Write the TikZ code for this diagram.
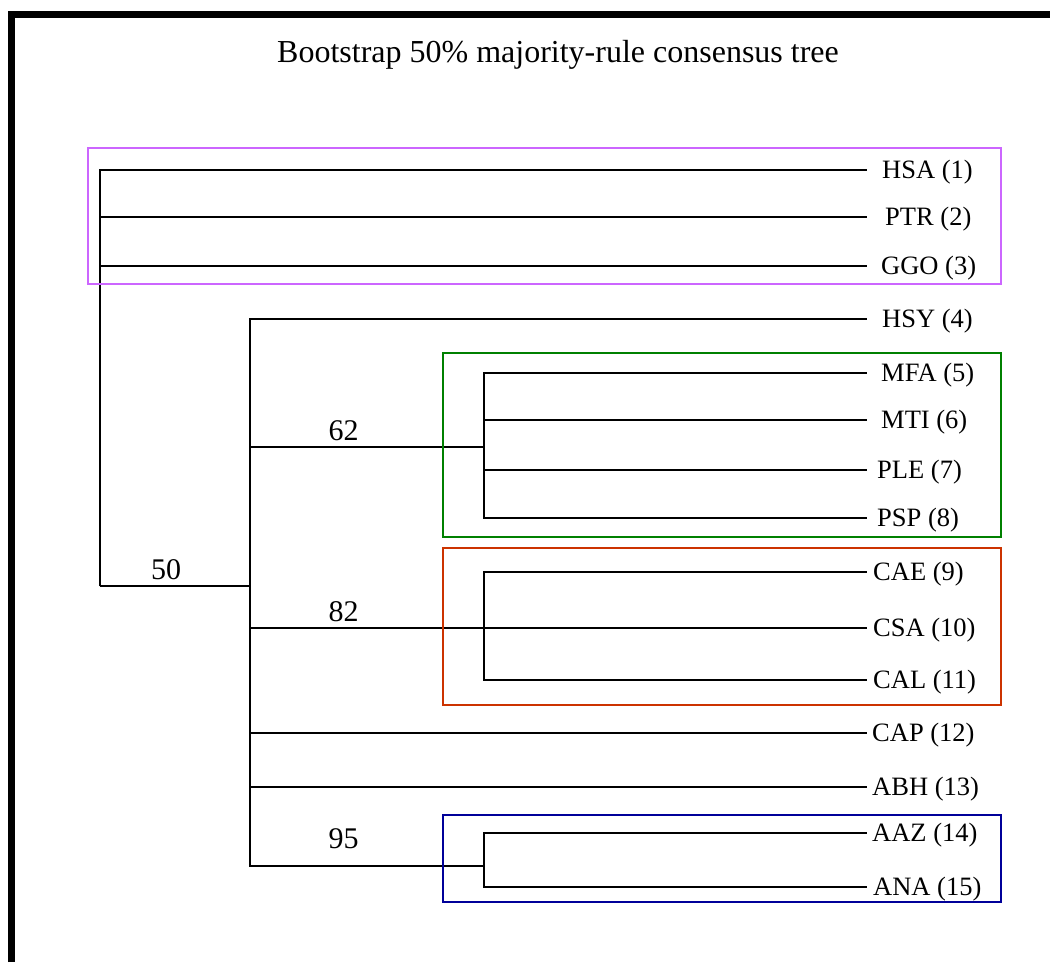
\documentclass[tikz,border=0pt]{standalone}
\usepackage{fontspec}
\setmainfont{Liberation Serif}
\usepackage{xcolor}

\definecolor{cladepurple}{RGB}{204,102,255}
\definecolor{cladegreen}{RGB}{0,128,0}
\definecolor{cladeorange}{RGB}{204,51,0}
\definecolor{cladeblue}{RGB}{0,0,153}

\begin{document}
\begin{tikzpicture}[x=1pt,y=-1pt,
    branch/.style={line width=2.8pt},
    taxon/.style={anchor=west,inner xsep=#1,inner ysep=0pt,text height=17.5pt,text depth=0pt,
      font=\fontsize{26.5}{30}\selectfont},
    taxon/.default=6pt,
    support/.style={above=5pt,inner sep=0pt,font=\fontsize{30}{34}\selectfont},
    cladebox/.style={line width=2.3pt}]
            \useasboundingbox (0,0) rectangle (1050,962);

            % Draw frame
            \draw[line width=7.6pt] (11.5,962) -- (11.5,14.5) -- (1050,14.5);

            % Title
            \node[anchor=base,font=\fontsize{32}{38}\selectfont] (title) at (558,62)
              {Bootstrap 50\% majority-rule consensus tree};

            % Taxa (tip of each branch at x=867)
            \node[taxon=15pt] (hsa) at (867,170) {HSA (1)};
            \node[taxon=18pt] (ptr) at (867,217) {PTR (2)};
            \node[taxon=14pt] (ggo) at (867,266) {GGO (3)};
            \node[taxon=15pt] (hsy) at (867,319) {HSY (4)};
            \node[taxon=14pt] (mfa) at (867,373) {MFA (5)};
            \node[taxon=14pt] (mti) at (867,420) {MTI (6)};
            \node[taxon=10pt] (ple) at (867,470) {PLE (7)};
            \node[taxon=10pt] (psp) at (867,518) {PSP (8)};
            \node[taxon] (cae) at (867,572) {CAE (9)};
            \node[taxon] (csa) at (867,628) {CSA (10)};
            \node[taxon] (cal) at (867,680) {CAL (11)};
            \node[taxon=5pt] (cap) at (867,733) {CAP (12)};
            \node[taxon=5pt] (abh) at (867,787) {ABH (13)};
            \node[taxon=5pt] (aaz) at (867,833) {AAZ (14)};
            \node[taxon] (ana) at (867,887) {ANA (15)};

            % Internal nodes
            \coordinate (root) at (100,586);
            \coordinate (n50) at (250,586);
            \coordinate (n62) at (484,447);
            \coordinate (n82) at (484,628);
            \coordinate (n95) at (484,866);

            % Draw branches
            \draw[branch] (root) |- (hsa.west);
            \draw[branch] (root) |- (ptr.west);
            \draw[branch] (root) |- (ggo.west);
            \draw[branch] (root) -- (n50) node[support,pos=0.44] {50};

            \draw[branch] (n50) |- (hsy.west);
            \draw[branch] (n50) |- (n62) node[support,pos=0.7] {62};
            \draw[branch] (n50) |- (n82) node[support,pos=0.7] {82};
            \draw[branch] (n50) |- (cap.west);
            \draw[branch] (n50) |- (abh.west);
            \draw[branch] (n50) |- (n95) node[support,pos=0.7,above=11pt] {95};

            \draw[branch] (n62) |- (mfa.west);
            \draw[branch] (n62) |- (mti.west);
            \draw[branch] (n62) |- (ple.west);
            \draw[branch] (n62) |- (psp.west);

            \draw[branch] (n82) |- (cae.west);
            \draw[branch] (n82) |- (csa.west);
            \draw[branch] (n82) |- (cal.west);

            \draw[branch] (n95) |- (aaz.west);
            \draw[branch] (n95) |- (ana.west);

            % Clade boxes
            \draw[cladebox,cladepurple] (88,148) rectangle (1001,284);
            \draw[cladebox,cladegreen] (443,353) rectangle (1001,537);
            \draw[cladebox,cladeorange] (443,548) rectangle (1001,705);
            \draw[cladebox,cladeblue] (443,815) rectangle (1001,902);
        \end{tikzpicture}
\end{document}
